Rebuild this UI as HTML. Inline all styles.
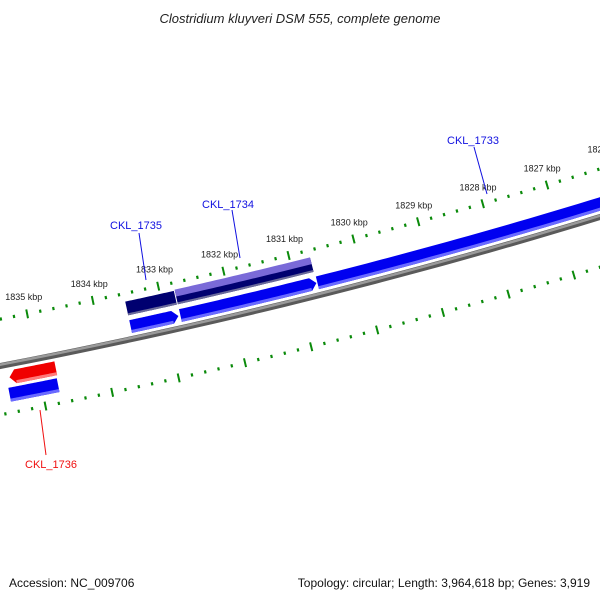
<!DOCTYPE html>
<html><head><meta charset="utf-8"><style>
body{margin:0;background:#fff}
svg{display:block;font-family:"Liberation Sans","DejaVu Sans",sans-serif}
</style></head><body>
<svg id="map" width="600" height="600" viewBox="0 0 600 600">
<text x="300" y="23" text-anchor="middle" font-size="13" font-style="italic" fill="#222">Clostridium kluyveri DSM 555, complete genome</text>
<text x="9" y="587" font-size="12" fill="#111">Accession: NC_009706</text>
<text x="590" y="587" font-size="12" fill="#111" text-anchor="end">Topology: circular; Length: 3,964,618 bp; Genes: 3,919</text>
<g id="g"></g>
</svg>
<script>
// data
const tickStartKbp = 1836;
const tickEndKbp = 1826;
const featureNames = ['CKL_1735','CKL_1734','CKL_1733','CKL_1736'];
const featureStarts = [1832803,1830697,1826000,1834742];
const featureEnds = [1833530,1832773,1830682,1835439];
const featureStrand = [1,1,1,-1];
const cogNames = ['CKL_1735','CKL_1734'];
const cogStarts = [1832788,1830697];
const cogEnds = [1833530,1832773];
const innerNames = ['CKL_1736'];
const innerStarts = [1834757];
const innerEnds = [1835485];

function circ(a,b,c){
  const d=2*(a[0]*(b[1]-c[1])+b[0]*(c[1]-a[1])+c[0]*(a[1]-b[1]));
  const s=p=>p[0]*p[0]+p[1]*p[1];
  const ux=(s(a)*(b[1]-c[1])+s(b)*(c[1]-a[1])+s(c)*(a[1]-b[1]))/d;
  const uy=(s(a)*(c[0]-b[0])+s(b)*(a[0]-c[0])+s(c)*(b[0]-a[0]))/d;
  return [ux,uy,Math.hypot(a[0]-ux,a[1]-uy)];
}
const [CX,CY,R]=circ([0,365],[320,294],[600,216]);
const refBp=1833000;
const refX=168;
const refY=CY+Math.sqrt(Math.max(0,R*R-(refX-CX)*(refX-CX)));
const th0=Math.atan2(refY-CY,refX-CX);
const dth=67.5/(1000*R);
function ang(bp){return th0-(refBp-bp)*dth;}
function pt(bp,off){const t=ang(bp),r=R-off;return [CX+r*Math.cos(t),CY+r*Math.sin(t)];}
const g=document.getElementById('g');
const NS='http://www.w3.org/2000/svg';
function mk(tag,at){const e=document.createElementNS(NS,tag);for(const k in at)e.setAttribute(k,at[k]);g.appendChild(e);return e;}
function arcPath(b1,b2,o1,o2,tipDir){
  const n=30,pts=[],head=6/(67.5/1000);
  let s=b1,e=b2;
  if(tipDir===1)s=b1+head; if(tipDir===-1)e=b2-head;
  for(let i=0;i<=n;i++){const b=s+(e-s)*i/n;pts.push(pt(b,o2));}
  if(tipDir===-1)pts.push(pt(b2,(o1+o2)/2));
  for(let i=n;i>=0;i--){const b=s+(e-s)*i/n;pts.push(pt(b,o1));}
  if(tipDir===1)pts.push(pt(b1,(o1+o2)/2));
  return 'M'+pts.map(p=>p[0].toFixed(2)+','+p[1].toFixed(2)).join('L')+'Z';
}
let e;
e=mk('path',{d:arcPath(1826000,1836500,-4,2,0),fill:'#5a5a5a'});


e=mk('path',{d:arcPath(1826000,1836500,-1,1.5,0),fill:'#9a9a9a'});


function ticks(off,name){
  for(let k=tickEndKbp*5;k<=tickStartKbp*5;k++){
    const bp=k*200,maj=k%5===0,L=maj?4.5:1.6;
    const a=pt(bp,off-L),b=pt(bp,off+L);
    const t=mk('line',{x1:a[0],y1:a[1],x2:b[0],y2:b[1],stroke:'#0a8a0a','stroke-width':maj?2:2.2});
    
    
  }
}
ticks(45,'outer');
ticks(-49,'inner');
for(let kb=tickEndKbp;kb<=tickStartKbp;kb++){
  const p=pt(kb*1000,62);
  const t=mk('text',{x:p[0],y:p[1]+3,'text-anchor':'middle','font-size':'9',fill:'#222'});
  t.textContent=kb+' kbp';
  
  
}
for(let i=0;i<3;i++){
  const tip=featureStarts[i]>1826000?1:0;
  e=mk('path',{d:arcPath(featureStarts[i],featureEnds[i],5,18,tip),fill:'#0000f0'});
  
  
  e=mk('path',{d:arcPath(featureStarts[i]+(tip?90:0),featureEnds[i],5,8,0),fill:'#6a6aff'});
  
  
}
e=mk('path',{d:arcPath(featureStarts[3],featureEnds[3],-21,-7,-1),fill:'#f00000'});


e=mk('path',{d:arcPath(featureStarts[3],featureEnds[3]-90,-21,-18,0),fill:'#ff7a7a'});


for(let i=0;i<2;i++){
  e=mk('path',{d:arcPath(cogStarts[i],cogEnds[i],23,37,0),fill:'#000070'});
  
  
  e=mk('path',{d:arcPath(cogStarts[i],cogEnds[i],23,25,0),fill:'#6a6a9a'});
  
  
}
e=mk('path',{d:arcPath(cogStarts[1],cogEnds[1],31,38,0),fill:'#7a6ad8'});


e=mk('path',{d:arcPath(innerStarts[0],innerEnds[0],-38,-24,0),fill:'#0000f0'});


e=mk('path',{d:arcPath(innerStarts[0],innerEnds[0],-38,-35,0),fill:'#6a6aff'});


const labels=[['CKL_1735',136,229,139,233,146,280,'#1010e0'],['CKL_1734',228,208,232,210,240,258,'#1010e0'],
['CKL_1733',473,144,474,147,487,194,'#1010e0'],['CKL_1736',51,468,40,410,46,455,'#f01010']];
labels.forEach(l=>{
  const ln=mk('line',{x1:l[3],y1:l[4],x2:l[5],y2:l[6],stroke:l[7],'stroke-width':1});
  
  
  const t=mk('text',{x:l[1],y:l[2],'text-anchor':'middle','font-size':'11',fill:l[7]});
  t.textContent=l[0];
  
  
});
</script>
</body></html>
